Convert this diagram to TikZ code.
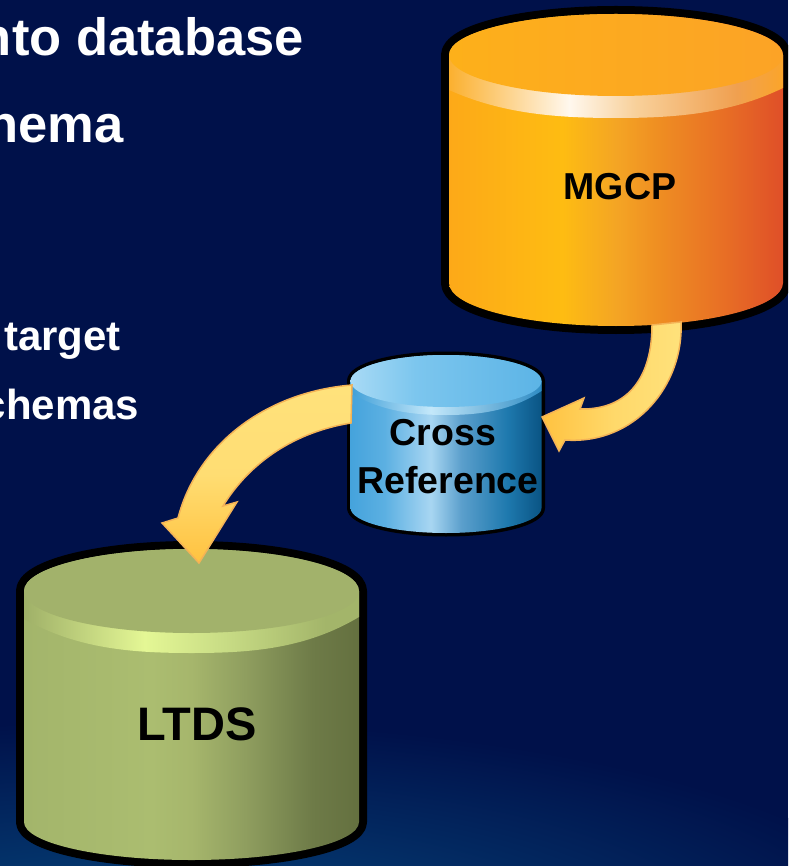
\documentclass[tikz,border=0pt]{standalone}
\usepackage{fontspec}
\setmainfont{Liberation Sans}
\definecolor{oA}{HTML}{FDA918}\definecolor{oB}{HTML}{FEBC12}\definecolor{oC}{HTML}{F4A524}\definecolor{oD}{HTML}{EF8F22}\definecolor{oE}{HTML}{E86F25}\definecolor{oF}{HTML}{DF4F28}
\definecolor{oTL}{HTML}{FDB01A}\definecolor{oTR}{HTML}{FCA326}
\definecolor{oRa}{HTML}{FBB02F}\definecolor{oRb}{HTML}{FFF8EE}\definecolor{oRc}{HTML}{F8D09A}\definecolor{oRd}{HTML}{F0A050}\definecolor{oRe}{HTML}{FBA52A}
\pgfdeclarehorizontalshading{mgcpbody}{100bp}{color(0bp)=(oA);color(25bp)=(oA);color(42bp)=(oB);color(50bp)=(oC);color(56bp)=(oD);color(66bp)=(oE);color(75bp)=(oF);color(100bp)=(oF)}
\pgfdeclarehorizontalshading{mgcprim}{100bp}{color(0bp)=(oRa);color(25bp)=(oRa);color(43bp)=(oRb);color(53bp)=(oRc);color(68bp)=(oRd);color(75bp)=(oRe);color(100bp)=(oRe)}
\pgfdeclarehorizontalshading{mgcptop}{100bp}{color(0bp)=(oTL);color(25bp)=(oTL);color(75bp)=(oTR);color(100bp)=(oTR)}
\definecolor{gA}{HTML}{A3B56B}\definecolor{gB}{HTML}{ABBD70}\definecolor{gC}{HTML}{A6B66C}\definecolor{gD}{HTML}{8F9E5F}\definecolor{gE}{HTML}{6E7B48}\definecolor{gF}{HTML}{64703F}
\definecolor{gT}{HTML}{A2B26B}\definecolor{gRa}{HTML}{9FB068}\definecolor{gRb}{HTML}{E4F795}\definecolor{gRc}{HTML}{C8DC85}\definecolor{gRd}{HTML}{A3B56A}
\pgfdeclarehorizontalshading{ltdsbody}{100bp}{color(0bp)=(gA);color(25bp)=(gA);color(44bp)=(gB);color(50bp)=(gC);color(58bp)=(gD);color(68bp)=(gE);color(75bp)=(gF);color(100bp)=(gF)}
\pgfdeclarehorizontalshading{ltdsrim}{100bp}{color(0bp)=(gRa);color(25bp)=(gRa);color(43bp)=(gRb);color(55bp)=(gRc);color(70bp)=(gRd);color(75bp)=(gRd);color(100bp)=(gRd)}
\pgfdeclarehorizontalshading{ltdstop}{100bp}{color(0bp)=(gT);color(100bp)=(gT)}
\definecolor{bA}{HTML}{45A3DC}\definecolor{bB}{HTML}{5CB0E2}\definecolor{bC}{HTML}{A8D6F2}\definecolor{bD}{HTML}{5B9FCC}\definecolor{bE}{HTML}{1E79AE}\definecolor{bF}{HTML}{0A5484}
\definecolor{bTa}{HTML}{A8DAF5}\definecolor{bTb}{HTML}{7CC6EE}\definecolor{bTc}{HTML}{5CB4E6}
\definecolor{bRa}{HTML}{3F9FD8}\definecolor{bRb}{HTML}{C4E8FA}\definecolor{bRc}{HTML}{2F8CC4}
\pgfdeclarehorizontalshading{xrefbody}{100bp}{color(0bp)=(bA);color(25bp)=(bA);color(34bp)=(bB);color(46bp)=(bC);color(54bp)=(bD);color(66bp)=(bE);color(75bp)=(bF);color(100bp)=(bF)}
\pgfdeclarehorizontalshading{xrefrim}{100bp}{color(0bp)=(bRa);color(25bp)=(bRa);color(46bp)=(bRb);color(75bp)=(bRc);color(100bp)=(bRc)}
\pgfdeclarehorizontalshading{xreftop}{100bp}{color(0bp)=(bTa);color(25bp)=(bTa);color(42bp)=(bTb);color(75bp)=(bTc);color(100bp)=(bTc)}
\definecolor{bgTop}{HTML}{00114A}\definecolor{bgLow}{HTML}{064A80}
\definecolor{arrowEdge}{HTML}{F4B356}\definecolor{arrowLight}{HTML}{FFE27C}\definecolor{arrowDeep}{HTML}{FFC240}
\def\cylw{16pt}
% suffix, cx, corner y, rx, top ry, rim side y, rim centre y, side bottom y, bottom ry
\newcommand{\dbcyl}[9]{%
  \path[draw=black,line width=\cylw,line join=round] ({#2-#4},#3) arc[start angle=180,end angle=360,x radius=#4,y radius=#5] -- ({#2+#4},#8) arc[start angle=0,end angle=180,x radius=#4,y radius=#9] -- cycle;
  \shade[shading=#1body] ({#2-#4},#3) arc[start angle=180,end angle=360,x radius=#4,y radius=#5] -- ({#2+#4},#8) arc[start angle=0,end angle=180,x radius=#4,y radius=#9] -- cycle;
  \shade[shading=#1rim] ({#2-#4},#3) -- ({#2-#4},#6) .. controls ({#2-0.68*#4},{#7-4}) and ({#2-0.35*#4},#7) .. (#2,#7) .. controls ({#2+0.35*#4},#7) and ({#2+0.68*#4},{#7-4}) .. ({#2+#4},{#6-2}) -- ({#2+#4},#3) -- cycle;
  \shade[shading=#1top] (#2,#3) ellipse[x radius=#4,y radius=#5];
}
\tikzset{
  headline/.style={anchor=base east,text=white,font=\bfseries\fontsize{52.5}{52.5}\selectfont,inner sep=0pt},
  subline/.style={anchor=base east,text=white,font=\bfseries\fontsize{42}{42}\selectfont,inner sep=0pt},
  dblabel/.style={text=black,font=\bfseries\fontsize{37.5}{37.5}\selectfont,inner sep=0pt,align=center},
  flowarrow/.style={draw=arrowEdge,line width=1.5pt,line join=miter}
}
\begin{document}
\begin{tikzpicture}[x=1pt,y=1pt,yscale=-1]
\useasboundingbox (0,0) rectangle (788,866);
\begin{scope}
\clip (0,0) rectangle (788,866);
\fill[bgTop] (0,0) rectangle (788,866);
\shade[inner color=bgLow,outer color=bgTop] (150,950) ellipse[x radius=780,y radius=230];
\node[headline] (t1) at (304,56) {into database};
\node[headline] (t2) at (123.5,143) {schema};
\node[subline] (t3) at (121,350) {target};
\node[subline] (t4) at (139.5,419) {schemas};

\dbcyl{mgcp}{616}{55}{167}{41}{90}{118}{283}{43}
\dbcyl{ltds}{191.5}{591}{167.5}{42}{619}{653}{822}{38}
\def\cylw{7pt}
\dbcyl{xref}{446}{381}{95.5}{26}{393}{415}{508}{25}

\node[dblabel] (mgcp) at (620,187) {MGCP};
\node[dblabel] (xrefa) at (443,433) {Cross};
\node[dblabel] (xrefb) at (448,480) {Reference};
\node[dblabel,font=\bfseries\fontsize{47}{47}\selectfont] (ltds) at (197,724) {LTDS};

\coordinate (a1s) at (652,325);
\coordinate (a1e) at (681,322);
\coordinate (a1t) at (542,417);
\coordinate (a2s) at (352,385);
\coordinate (a2e) at (351,423);
\coordinate (a2t) at (199,563);
\draw[flowarrow,left color=arrowDeep,right color=arrowLight,middle color=arrowLight!70!arrowDeep] (a1s) .. controls (652,375) and (630,410) .. (580,409) -- (584,398) -- (a1t) -- (559,451) -- (565,440) .. controls (635,445) and (684,385) .. (a1e) -- cycle;
\draw[flowarrow,top color=arrowLight,bottom color=arrowDeep,middle color=arrowLight!85!arrowDeep] (a2s) .. controls (265,392) and (197,445) .. (178,518) -- (162,523) -- (a2t) -- (237,502) -- (223,506) .. controls (250,462) and (295,432) .. (a2e) -- cycle;
\end{scope}
\end{tikzpicture}
\end{document}
